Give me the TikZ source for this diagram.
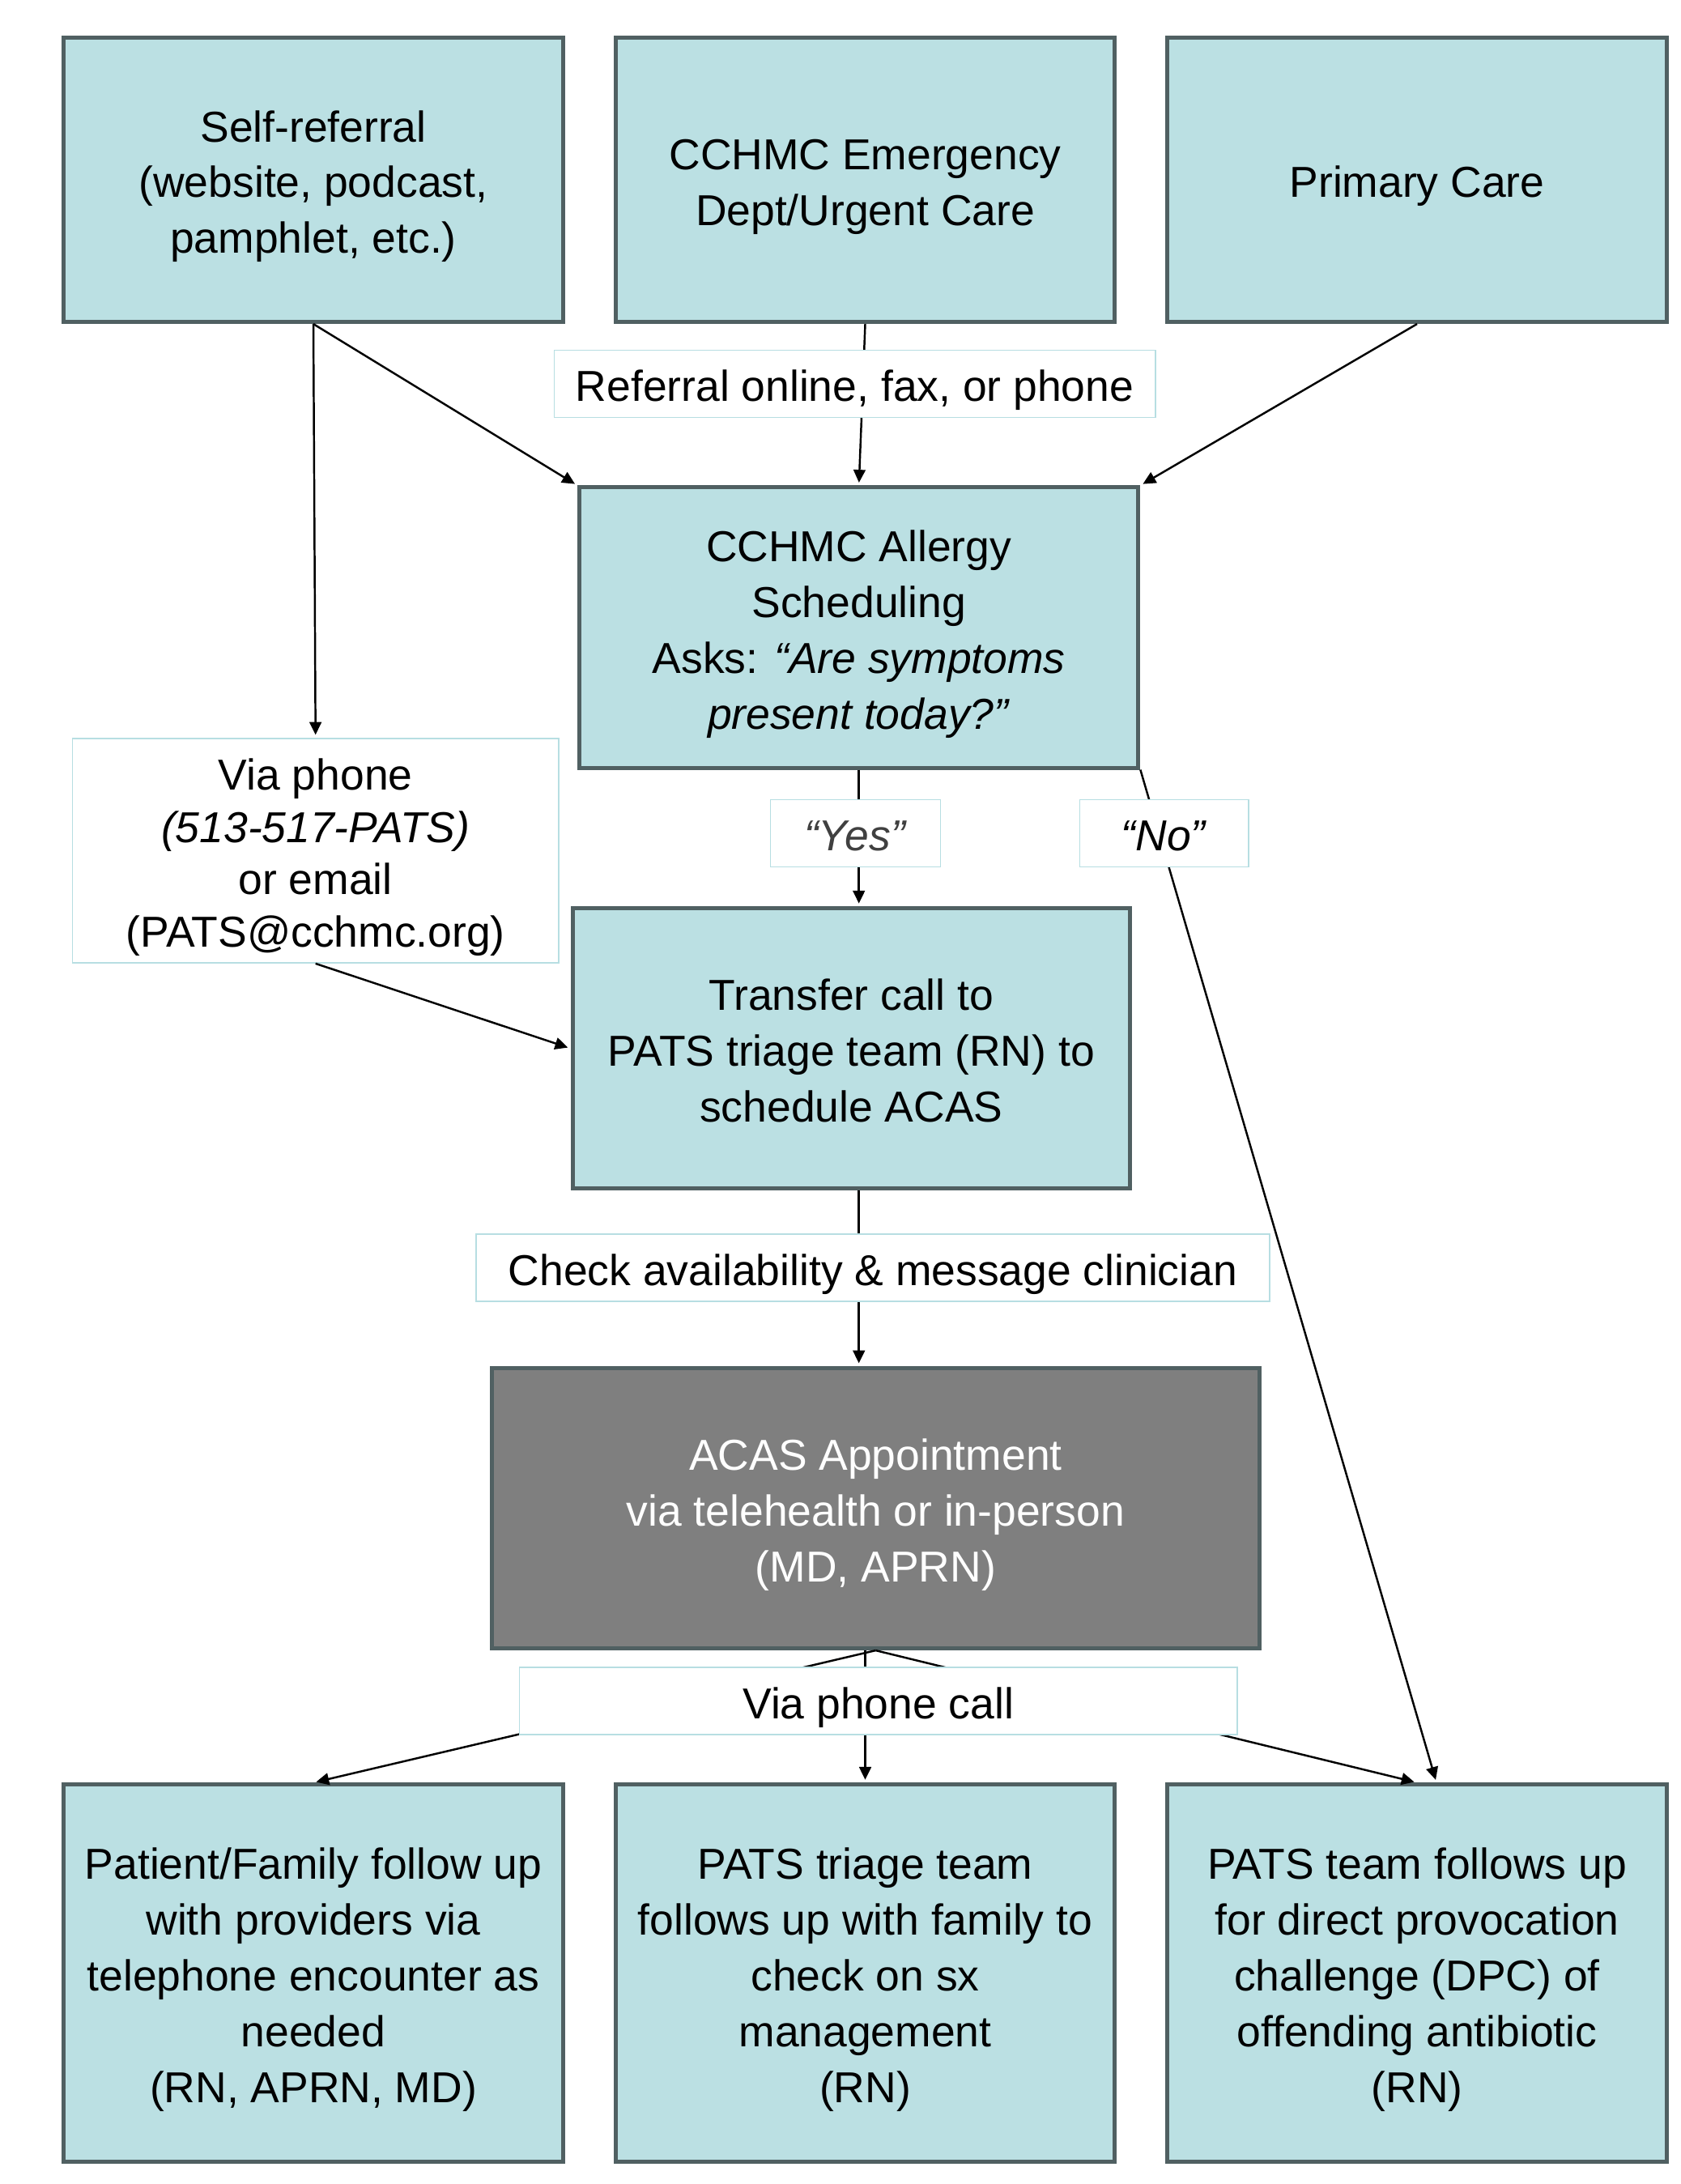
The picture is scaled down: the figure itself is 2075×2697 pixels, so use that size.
\documentclass[tikz,border=0pt]{standalone}
\usepackage{fontspec}
\setmainfont{Liberation Sans}
\usetikzlibrary{arrows.meta}

\definecolor{boxfill}{RGB}{187,224,227}
\definecolor{boxedge}{RGB}{80,96,98}
\definecolor{tagedge}{RGB}{183,222,226}
\definecolor{apptfill}{RGB}{127,127,127}
\definecolor{yesgray}{RGB}{64,64,64}

\begin{document}
\begin{tikzpicture}[x=0.01cm, y=-0.01cm,
    every node/.style={font=\fontsize{15.2}{19.6}\selectfont, text height=16.5pt, text depth=4pt},
    flowbox/.style={draw=boxedge, line width=1.4pt, fill=boxfill,
        minimum width=6.16cm, minimum height=3.51cm, align=center, inner sep=0pt},
    tagbox/.style={draw=tagedge, line width=0.5pt, fill=white,
        minimum height=0.83cm, align=center, inner sep=0pt},
    link/.style={-{Triangle[length=4.5pt, width=4.2pt]}, line width=0.7pt, shorten >=1pt}]

	\useasboundingbox (0,0) rectangle (2075,2697);

	% referral sources
	\node[flowbox, text height=55.7pt] (self) at (387,222) {Self-referral\\(website, podcast,\\pamphlet, etc.)};
	\node[flowbox, text height=36.1pt] (emerg) at (1068.5,222) {CCHMC Emergency\\Dept/Urgent Care};
	\node[flowbox] (primary) at (1750,222) {Primary Care};

	\node[flowbox, minimum width=6.9cm, minimum height=3.46cm, text height=75.3pt] (sched) at (1060.7,775)
		{CCHMC Allergy\\Scheduling\\Asks: \textit{“Are symptoms}\\\textit{present today?”}};

	\node[tagbox, minimum width=6.0cm, minimum height=2.77cm, text height=71.7pt,
		font=\fontsize{15.2}{18.4}\selectfont] (via) at (389.7,1050.4)
		{Via phone\\\textit{(513-517-PATS)}\\or email\\(PATS@cchmc.org)};

	\node[flowbox, minimum width=6.88cm, minimum height=3.46cm, text height=55.7pt] (transfer) at (1051.3,1294.7)
		{Transfer call to\\PATS triage team (RN) to\\schedule ACAS};

	\node[flowbox, fill=apptfill, text=white, minimum width=9.48cm, minimum height=3.46cm,
		text height=55.7pt] (acas) at (1081.4,1862.5)
		{ACAS Appointment\\via telehealth or in-person\\(MD, APRN)};

	% follow up
	\node[flowbox, minimum height=4.65cm, text height=94.9pt] (family) at (387,2436.4)
		{Patient/Family follow up\\with providers via\\telephone encounter as\\needed\\(RN, APRN, MD)};
	\node[flowbox, minimum height=4.65cm, text height=94.9pt] (triage) at (1068.5,2436.4)
		{PATS triage team\\follows up with family to\\check on sx\\management\\(RN)};
	\node[flowbox, minimum height=4.65cm, text height=94.9pt] (dpc) at (1750,2436.4)
		{PATS team follows up\\for direct provocation\\challenge (DPC) of\\offending antibiotic\\(RN)};

	% connectors
	\draw[link] (self.south) -- (via.north);
	\draw[link] (self.south) -- (sched.north west);
	\draw[link] (emerg.south) -- (sched.north);
	\draw[link] (primary.south) -- (sched.north east);
	\draw[link] (sched.south) -- (sched.south |- transfer.north);
	\draw[link] (sched.south east) -- ([xshift=0.24cm]dpc.north);
	\draw[link] (via.south) -- (transfer.west);
	\draw[link] (transfer.south -| sched.south) -- (acas.north -| sched.south);
	\draw[link] (acas.south) -- (family.north);
	\draw[link] (acas.south -| triage.north) -- (triage.north);
	\draw[link] (acas.south) -- (dpc.north);

	% labels on the connectors
	\node[tagbox, minimum width=7.42cm] (referral) at (1055.6,474) {Referral online, fax, or phone};
	\node[tagbox, minimum width=2.1cm, text=yesgray] (yes) at (1056.5,1029) {\textit{“Yes”}};
	\node[tagbox, minimum width=2.08cm] (no) at (1437.6,1029) {\textit{“No”}};
	\node[tagbox, minimum width=9.79cm] (check) at (1078,1565.8) {Check availability \& message clinician};
	\node[tagbox, minimum width=8.86cm] (phonecall) at (1084.8,2100.8) {Via phone call};

\end{tikzpicture}
\end{document}
